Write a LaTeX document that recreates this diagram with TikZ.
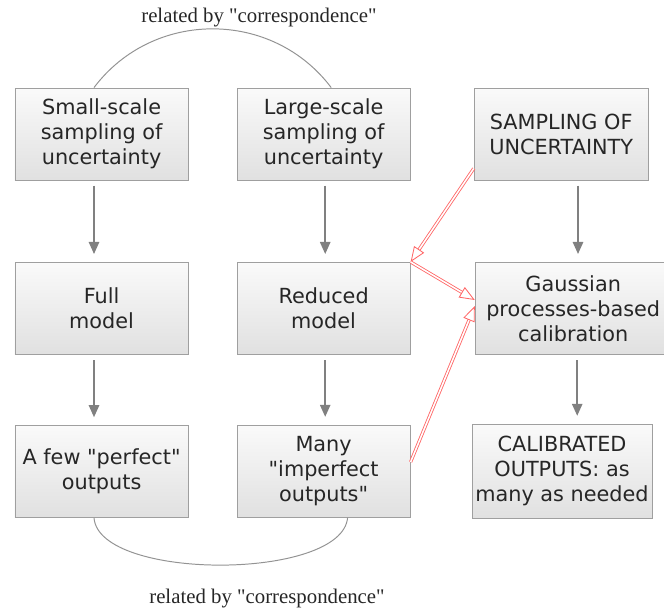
\documentclass[tikz,border=0pt]{standalone}
\usepackage{fontspec}
\newfontfamily\notefont{Liberation Serif}
\newfontfamily\boxfont{DejaVu Sans}
\usetikzlibrary{arrows.meta,shadows}

\begin{document}
\begin{tikzpicture}[
	box/.style={draw=gray!75, line width=0.6pt, top color=gray!4, bottom color=gray!24,
		align=center, inner sep=1pt, minimum width=4.33cm, minimum height=2.3cm,
		font=\boxfont\fontsize{14.8}{17.8}\selectfont, text=black!85,
		drop shadow={opacity=0.18, shadow xshift=0.6pt, shadow yshift=-0.6pt}},
	flow/.style={gray, line width=1.1pt, -{Triangle[length=0.3cm, width=0.26cm]},
		shorten <=0.13cm, shorten >=0.2cm},
	feed/.style={draw=red!60, double=white, double distance=1.1pt, line width=0.6pt,
		-{Triangle[open, length=0.38cm, width=0.3cm]}},
	link/.style={gray!85, line width=0.7pt},
	remark/.style={font=\notefont\fontsize{14.8}{17}\selectfont, text=black!85}
]
	\useasboundingbox (0,0) rectangle (16.6,-15.3);

	\node[box] (small) at (2.54,-3.35) {Small-scale\\sampling of\\uncertainty};
	\node[box] (large) at (8.09,-3.35) {Large-scale\\sampling of\\uncertainty};
	\node[box, minimum width=4.35cm] (sampling) at (14.03,-3.35) {SAMPLING OF\\UNCERTAINTY};

	\node[box] (full) at (2.54,-7.71) {Full\\model};
	\node[box] (reduced) at (8.09,-7.71) {Reduced\\model};
	\node[box, minimum width=4.9cm] (gauss) at (14.33,-7.71) {Gaussian\\processes-based\\calibration};

	\node[box] (perfect) at (2.54,-11.79) {A few "perfect"\\outputs};
	\node[box] (imperfect) at (8.09,-11.78) {Many\\"imperfect\\outputs"};
	\node[box, minimum width=4.5cm, minimum height=2.35cm] (calibrated) at (14.05,-11.78) {CALIBRATED\\OUTPUTS: as\\many as needed};

	\node[remark] (corrtop) at (6.475,-0.43) {related by "correspondence"};
	\node[remark] (corrbot) at (6.675,-14.97) {related by "correspondence"};

	\draw[flow] ([xshift=-0.19cm]small.south) -- ([xshift=-0.19cm]full.north);
	\draw[flow] ([xshift=-0.19cm]full.south) -- ([xshift=-0.19cm]perfect.north);
	\draw[flow] ([xshift=0.04cm]large.south) -- ([xshift=0.04cm]reduced.north);
	\draw[flow] ([xshift=0.04cm]reduced.south) -- ([xshift=0.04cm]imperfect.north);
	\draw[flow] ([xshift=0.42cm]sampling.south) -- ([xshift=0.42cm]sampling.south |- gauss.north);
	\draw[flow] ([xshift=0.1cm]gauss.south) -- ([xshift=0.1cm]gauss.south |- calibrated.north);

	\draw[link] ([xshift=-0.19cm]small.north) to[out=53, in=127, looseness=1.06] ([xshift=0.19cm]large.north);
	\draw[link] ([xshift=-0.19cm]perfect.south) to[out=-85, in=-95, looseness=0.64] ([xshift=0.6cm]imperfect.south);

	\draw[feed] ([yshift=0.3cm]sampling.south west) -- (reduced.north east);
	\draw[feed] (reduced.north east) -- ([yshift=0.21cm]gauss.west);
	\draw[feed] ([yshift=0.23cm]imperfect.east) -- ([yshift=0.06cm]gauss.west);
\end{tikzpicture}
\end{document}
